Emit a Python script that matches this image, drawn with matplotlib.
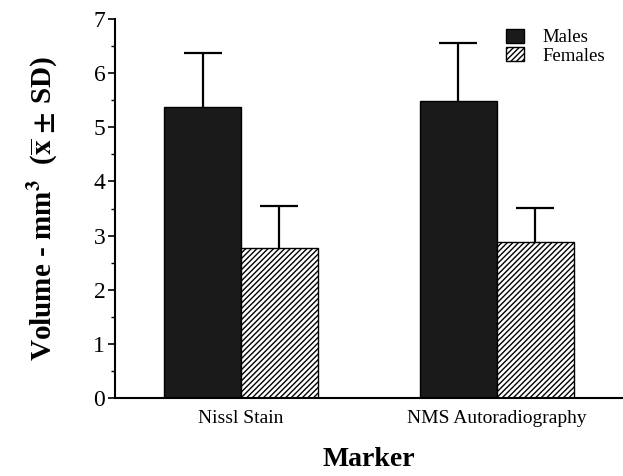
import numpy as np
import matplotlib
matplotlib.use('Agg')
import matplotlib.pyplot as plt
from matplotlib.patches import Patch

# Datos
marcadores = ['Nissl Stain', 'NMS Autoradiography']
machos = [5.38, 5.49]
machos_sd = [0.99, 1.06]
hembras = [2.77, 2.89]
hembras_sd = [0.78, 0.62]

plt.rcParams['font.family'] = ['Liberation Serif', 'DejaVu Serif']
plt.rcParams['mathtext.fontset'] = 'stix'
plt.rcParams['hatch.linewidth'] = 1.0

fig = plt.figure(figsize=(6.23, 4.76), dpi=100)
ax = fig.add_axes([0.1846, 0.1639, 0.8134, 0.7961])

x = np.arange(len(marcadores))
w = 0.30

# Barras
ax.bar(x - w/2, machos, w, color='#1a1a1a', edgecolor='black', lw=1.0, zorder=2)
ax.bar(x + w/2, hembras, w, color='white', edgecolor='black', hatch='//////', lw=1.0, zorder=2)

# Barras de error (la mitad inferior queda tapada por la barra)
ax.errorbar(x - w/2, machos, yerr=machos_sd, fmt='none',
            ecolor='black', elinewidth=1.6, capsize=14, capthick=1.6, zorder=1)
ax.errorbar(x + w/2, hembras, yerr=hembras_sd, fmt='none',
            ecolor='black', elinewidth=1.6, capsize=14, capthick=1.6, zorder=1)

# Ejes
ax.set_xlim(-0.492, 1.488)
ax.set_ylim(0, 7)
ax.set_yticks(range(0, 8))
ax.set_yticks(np.arange(0.5, 7, 1), minor=True)
ax.set_xticks(x)
ax.set_xticklabels(marcadores, fontsize=14)
ax.tick_params(axis='x', length=0, pad=9)
ax.tick_params(axis='y', which='major', length=5, width=1.2, labelsize=17, pad=2)
ax.tick_params(axis='y', which='minor', length=3, width=1.0)
for s in ['top', 'right']:
    ax.spines[s].set_visible(False)
ax.spines['left'].set_linewidth(1.5)
ax.spines['bottom'].set_linewidth(1.5)

ax.set_ylabel(r'Volume - mm$^{\mathbf{3}}$  ($\mathbf{\overline{x}}$ $\mathbf{\pm}$ SD)',
              fontsize=21, fontweight='bold', labelpad=24)
ax.set_xlabel('Marker', fontsize=20, fontweight='bold', labelpad=14)

# Leyenda
handles = [Patch(facecolor='#1a1a1a', edgecolor='black', label='Males'),
           Patch(facecolor='white', edgecolor='black', hatch='//////', label='Females')]
fig.legend(handles=handles, loc='upper left', bbox_to_anchor=(0.800, 0.955),
           frameon=False, fontsize=13.5, handlelength=0.95, handleheight=0.75,
           handletextpad=1.0, labelspacing=0.05, borderaxespad=0)

fig.savefig('out.png', dpi=100)
